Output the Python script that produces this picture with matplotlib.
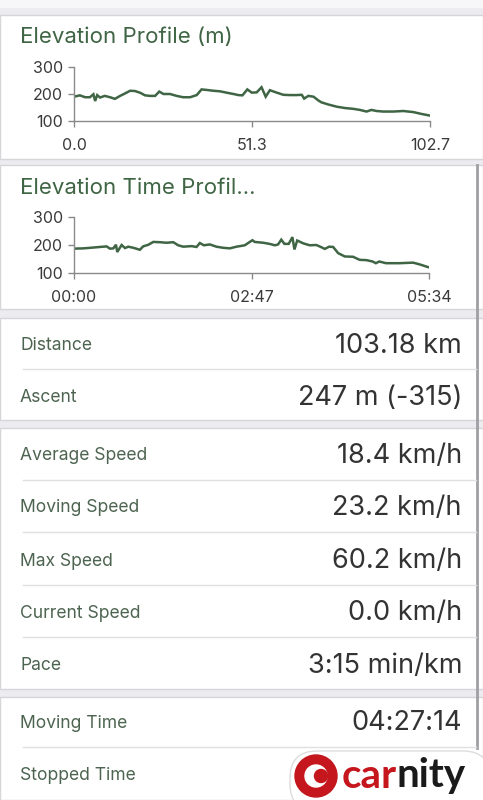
import numpy as np
import matplotlib
matplotlib.use("Agg")
import matplotlib.pyplot as plt
from matplotlib.patches import Rectangle, Circle, FancyBboxPatch

# perfil de elevación por distancia (km, m)
dist_km = [0, 1.7, 3.2, 4.6, 5.6, 6.1, 6.7, 7.5, 8.9, 10.4, 11.8, 13.3, 14.7, 16.2, 17.6,
           19.0, 20.5, 21.9, 23.4, 24.6, 25.8, 27.7, 29.6, 31.5, 33.5, 35.4, 36.8, 38.3,
           40.2, 42.1, 44.0, 46.0, 47.4, 48.6, 50.0, 51.3, 52.7, 54.1, 55.3, 56.5, 58.5,
           60.4, 62.3, 64.2, 65.7, 66.4, 67.6, 69.1, 70.5, 71.4, 73.4, 75.8, 78.2, 80.6,
           82.5, 84.4, 85.8, 87.3, 89.2, 92.1, 95.0, 97.9, 100.3, 102.7]
elev_dist = [190, 195, 188, 188, 199, 174, 196, 187, 193, 188, 182, 193, 202, 212, 211,
             205, 195, 193, 193, 209, 200, 200, 193, 188, 188, 196, 217, 215,
             212, 210, 205, 200, 196, 195, 217, 205, 206, 225, 190, 214, 205,
             197, 196, 196, 197, 183, 193, 190, 176, 169, 161, 153, 148, 145,
             141, 135, 141, 137, 135, 135, 137, 133, 126, 120]

# perfil de elevación por tiempo (min, m)
time_min = [0, 9, 30.7, 33.8, 37, 39.5, 40.7, 44.8, 48, 51, 55.8, 62, 65, 70, 74.6, 80.8,
            87, 93.4, 98, 102.8, 110.6, 115.3, 118.4, 122.2, 127.8, 134, 140.4, 146.6,
            152.9, 160.7, 165.4, 167.9, 170, 178, 184, 189, 192, 195, 198, 202, 205.5,
            207.4, 210, 215.6, 221.8, 228, 232.8, 236, 240, 243.8, 248.5, 254.8, 262.5,
            268.8, 275, 281, 284, 287.2, 293.6, 306.4, 319, 325, 334]
elev_time = [187, 188, 195, 187, 188, 201, 175, 200, 189, 194, 190, 183, 195, 201, 211, 210,
             208, 210, 199, 194, 196, 193, 207, 199, 202, 194, 190, 188,
             194, 199, 211, 217, 211, 208, 204, 199, 202, 219, 204, 204, 228,
             184, 216, 206, 199, 200, 192, 186, 194, 193, 171, 159, 158,
             147, 146, 141, 135, 141, 135, 135, 137, 131, 120]

dist_ticks = [0, 51.3, 102.7]
dist_labels = ["0.0", "51.3", "102.7"]
time_ticks = [0, 167, 334]
time_labels = ["00:00", "02:47", "05:34"]
elev_ticks = [100, 200, 300]

stat_names = ["Distance", "Ascent", "Average Speed", "Moving Speed", "Max Speed",
              "Current Speed", "Pace", "Moving Time", "Stopped Time"]
stat_values = ["103.18 km", "247 m (-315)", "18.4 km/h", "23.2 km/h", "60.2 km/h",
               "0.0 km/h", "3:15 min/km", "04:27:14", ""]

W, H = 483, 800
GRAY = "#ececf0"
EDGE = "#d6d6da"
GREEN = "#3f6544"
LABEL = "#4d6450"
VALUE = "#333333"
FONT = ["Inter", "DejaVu Sans"]

plt.rcParams["font.family"] = FONT

fig = plt.figure(figsize=(W / 100, H / 100), dpi=100)
bg = fig.add_axes([0, 0, 1, 1])
bg.set_xlim(0, W)
bg.set_ylim(H, 0)
bg.axis("off")
bg.add_patch(Rectangle((0, 0), W, H, color=GRAY, zorder=0))
bg.add_patch(Rectangle((0, 0), W, 7, color="#f7f7f9", zorder=0.5))

# tarjetas blancas
cards = [(15, 159), (165, 309), (318, 420), (428, 689), (697, 800)]
for top, bottom in cards:
    bg.add_patch(Rectangle((0, top), W, bottom - top, facecolor="white",
                           edgecolor=EDGE, linewidth=1, zorder=1))

# barra de scroll a la derecha
bg.plot([476.5, 476.5], [165, 748], color="#a0a0a4", linewidth=2, zorder=2)

bg.text(20, 37, "Elevation Profile (m)", fontsize=16, color=GREEN, va="center", zorder=3)
bg.text(20, 188, "Elevation Time Profil...", fontsize=16, color=GREEN, va="center", zorder=3)

row_y = [344, 396, 454, 506, 559, 611, 664, 721, 774]
seps = [369, 480, 532, 585, 637, 747]
for s in seps:
    bg.plot([23, 476], [s, s], color="#e0e0e3", linewidth=1, zorder=2)
for name, val, y in zip(stat_names, stat_values, row_y):
    bg.text(20, y + 2, name, fontsize=12.6, color=LABEL, va="center", zorder=3)
    if val:
        bg.text(462, y + 2, val, fontsize=19.5, color=VALUE, va="center", ha="right", zorder=3)

# logo carnity
bg.add_patch(FancyBboxPatch((290, 751), 200, 60, boxstyle="round,pad=0,rounding_size=27",
                            facecolor="white", edgecolor="#dddddd", linewidth=1, zorder=4))
bg.add_patch(Circle((316, 776), 21, color="#c4161c", zorder=5))
bg.add_patch(Circle((316, 776), 11, color="white", zorder=6))
bg.add_patch(Circle((321, 776), 6.5, color="#c4161c", zorder=7))
t_car = bg.text(342, 776, "car", fontsize=29, fontweight="bold", color="#c4161c",
                va="center", family=["Lato", "DejaVu Sans"], zorder=5)
fig.canvas.draw()
bb = t_car.get_window_extent().transformed(bg.transData.inverted())
bg.text(max(bb.x0, bb.x1) - 1, 776, "nity", fontsize=29, fontweight="bold", color="#1a1a1a",
        va="center", family=["Lato", "DejaVu Sans"], zorder=5)


def chart(rect_px, x, y, xlim, xticks, xlabels):
    left, top, right, bottom = rect_px
    ax = fig.add_axes([left / W, 1 - bottom / H, (right - left) / W, (bottom - top) / H])
    ax.set_facecolor("none")
    ax.plot(x, y, color=GREEN, linewidth=1.8, solid_joinstyle="miter")
    ax.set_xlim(*xlim)
    ax.set_ylim(100, 300)
    ax.set_yticks(elev_ticks)
    ax.set_xticks(xticks)
    ax.set_xticklabels(xlabels)
    for side in ["top", "right"]:
        ax.spines[side].set_visible(False)
    for side in ["left", "bottom"]:
        ax.spines[side].set_color("#8a8a8a")
        ax.spines[side].set_linewidth(1)
    ax.tick_params(colors="#8a8a8a", labelcolor="#3a3a3a", labelsize=11.5, length=4, width=1)
    ax.tick_params(axis="x", pad=8)
    ax.tick_params(axis="y", pad=4)
    return ax


chart((74, 67, 430, 121), dist_km, elev_dist, (0, 102.7), dist_ticks, dist_labels)
chart((74, 217, 429, 273), time_min, elev_time, (0, 334), time_ticks, time_labels)

fig.savefig("out.png", dpi=100)
